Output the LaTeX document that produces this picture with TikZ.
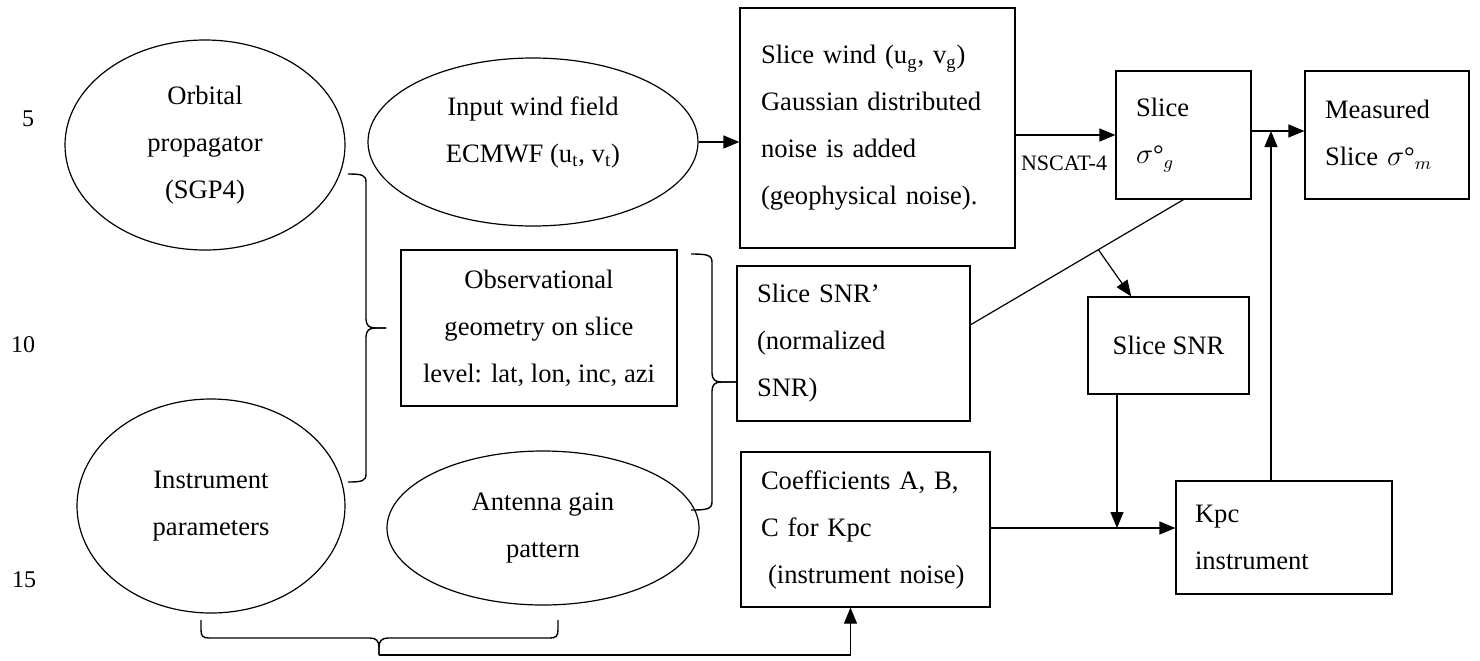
\documentclass[tikz,border=0pt]{standalone}
\usepackage{fontspec}
\setmainfont{Liberation Serif}
\usetikzlibrary{shapes.geometric,arrows.meta,calc}
\newcommand{\mfs}{\fontsize{13.3}{23.5}\selectfont}
\newcommand{\nfs}{\fontsize{12}{14}\selectfont}
\newcommand{\sfs}{\fontsize{11}{13}\selectfont}
\begin{document}
\begin{tikzpicture}[x=0.5pt,y=-0.5pt,
  every node/.style={font=\mfs, text=black},
  ln/.style={line width=0.6pt, draw=black},
  arr/.style={ln, -{Triangle[length=8pt,width=6.5pt]}},
  lb/.style={draw=black, line width=0.6pt, rectangle, inner ysep=0pt, align=left},
  cb/.style={draw=black, line width=0.6pt, rectangle, inner sep=0pt, align=center},
  ell/.style={draw=black, line width=0.6pt, ellipse, inner sep=0pt, align=center},
  brc/.style={line width=0.7pt, draw=black},
]
\useasboundingbox (0,0) rectangle (1480,660);

% line numbers
\node[font=\nfs] (n5) at (28,119) {5};
\node[font=\nfs] (n10) at (23,345) {10};
\node[font=\nfs] (n15) at (24,580) {15};

% ellipses
\node[ell, minimum width=140pt, minimum height=105pt] (orb) at (205,145) {Orbital\\propagator\\(SGP4)};
\node[ell, minimum width=165pt, minimum height=84pt] (inp) at (533,142) {};
\node[align=center, inner sep=0pt] (inpt) at (533,132) {Input wind field\\ECMWF (u\textsubscript{t}, v\textsubscript{t})};
\node[ell, minimum width=134pt, minimum height=107pt] (ins) at (211,506) {Instrument\\parameters};
\node[ell, minimum width=156pt, minimum height=77pt] (ant) at (543,528) {Antenna gain\\pattern};

% boxes
\node[lb, minimum height=120pt, text width=116.5pt, inner xsep=10.5pt] (wind) at (877.5,128)
  {Slice wind (u\textsubscript{g}, v\textsubscript{g})\\Gaussian distributed\\noise is added\\(geophysical noise).};
\node[lb, minimum height=64pt, text width=47.5pt, inner xsep=10pt] (sg) at (1183.5,135)
  {Slice\\$\sigma$°${}_{g}$};
\node[lb, minimum height=64pt, text width=62pt, inner xsep=10pt] (meas) at (1387,135)
  {Measured\\Slice $\sigma$°${}_{m}$};
\node[cb, minimum width=138pt, minimum height=78pt] (obs) at (539,328)
  {Observational\\geometry on slice\\level: lat, lon, inc, azi};
\node[lb, minimum height=77.5pt, text width=96.5pt, inner xsep=10pt] (snrp) at (853.5,343.5)
  {Slice SNR’\\(normalized\\SNR)};
\node[cb, minimum width=80.5pt, minimum height=48.5pt] (snr) at (1168.5,345.5) {Slice SNR};
\node[lb, minimum height=77.5pt, text width=104.5pt, inner xsep=10pt] (coef) at (865.5,529.5)
  {\makebox[104.5pt][s]{Coefficients A, B,}\\C for Kpc\\\hspace*{3.5pt}(instrument noise)};
\node[lb, minimum height=56.5pt, text width=89pt, inner xsep=9.5pt] (kpc) at (1284,537.5)
  {Kpc\\instrument};

% label
\node[font=\sfs, inner sep=0pt] (nscat) at (1064,163) {NSCAT-4};

% connectors
\draw[arr] (inp.east) -- (wind.west |- inp.east);
\draw[arr] (wind.east |- sg.west) -- (sg.west);
\coordinate (j1) at (1271,131);
\draw[arr] (sg.east |- j1) -- (meas.west |- j1);
\draw[arr] (kpc.north -| j1) -- (j1);
\coordinate (d1) at ($(snrp.north east)!0.38!(snrp.south east)$);
\draw[ln] (sg.south) -- (d1);
\draw[arr] ($(sg.south)!0.4!(d1)$) -- ($(snr.north west)!0.27!(snr.north east)$);
\coordinate (j2) at (1117,528);
\draw[arr] (snr.south -| j2) -- (j2);
\draw[arr] (coef.east |- j2) -- (kpc.west |- j2);

% brace 1 (right-facing, between ellipses and observational box)
\coordinate (b1a) at (348,174);
\coordinate (b1t) at (386,328);
\coordinate (b1b) at (348,482);
\draw[brc] (b1a) .. controls (362,174) and (366,175) .. (366,182) -- (366,319)
  .. controls (366,325) and (369,328) .. (375,328) -- (b1t);
\draw[brc] (b1t) -- (375,328) .. controls (369,328) and (366,331) .. (366,337) -- (366,474)
  .. controls (366,481) and (362,482) .. (b1b);

% brace 2 (right-facing, before Slice SNR')
\coordinate (b2a) at (691,254);
\coordinate (b2t) at (736,382);
\coordinate (b2b) at (691,510);
\draw[brc] (b2a) .. controls (707,254) and (712,255) .. (712,262) -- (712,373)
  .. controls (712,379) and (715,382) .. (721,382) -- (b2t);
\draw[brc] (b2t) -- (721,382) .. controls (715,382) and (712,385) .. (712,391) -- (712,502)
  .. controls (712,509) and (707,510) .. (b2b);

% brace 3 (downward, under the lower ellipses)
\coordinate (b3a) at (201,620);
\coordinate (bt) at (379,655);
\coordinate (b3b) at (558,620);
\draw[brc] (b3a) -- (201,630) .. controls (201,636) and (203,638) .. (209,638) -- (370,638)
  .. controls (376,638) and (379,641) .. (379,647) -- (bt);
\draw[brc] (bt) -- (379,647) .. controls (379,641) and (382,638) .. (388,638) -- (550,638)
  .. controls (556,638) and (558,636) .. (558,630) -- (b3b);

\draw[arr] (bt) -| ($(coef.south west)!0.44!(coef.south east)$);
\end{tikzpicture}
\end{document}
